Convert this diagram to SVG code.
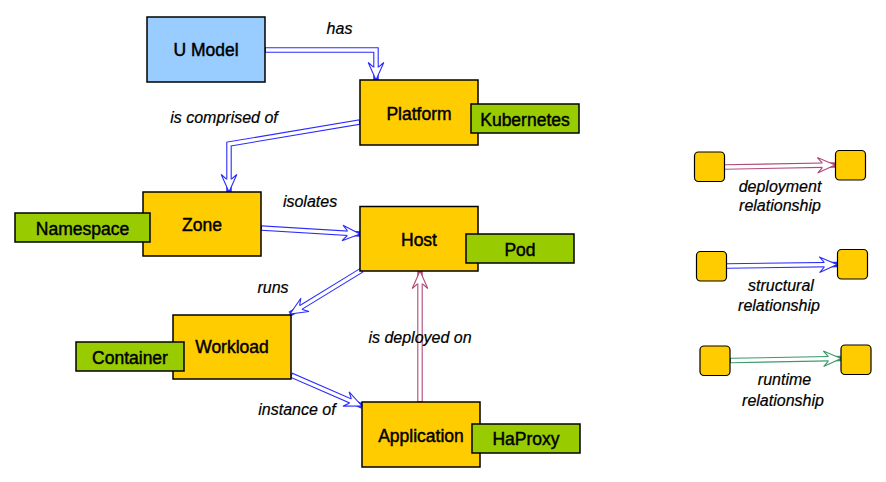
<svg xmlns="http://www.w3.org/2000/svg" width="886" height="482" viewBox="0 0 886 482">
<style>
  .node { stroke: #000; stroke-width: 1.5; }
  .orange { fill: #ffcc00; }
  .green { fill: #99cc00; }
  .blue { fill: #99ccff; }
  .nlabel { font-family: "Liberation Sans", Arial, sans-serif; font-size: 17.5px; fill: #000; stroke: #000; stroke-width: 0.45; text-anchor: middle; }
  .elabel { font-family: "Liberation Sans", Arial, sans-serif; font-size: 16px; font-style: italic; fill: #000; stroke: #000; stroke-width: 0.2; text-anchor: middle; }
  .outer { fill: none; stroke-width: 5.5; stroke-linejoin: miter; stroke-linecap: butt; }
  .inner { fill: none; stroke: #fff; stroke-width: 3.3; stroke-linejoin: miter; stroke-linecap: butt; }
  .s { stroke: #2b2bff; }
  .d { stroke: #b04a7a; }
  .r { stroke: #3a9a6a; }
  .leg { fill: #ffcc00; stroke: #000; stroke-width: 1.2; }
</style>
<defs>
  <marker id="ahS" markerUnits="userSpaceOnUse" viewBox="-19 -10 20 20" refX="0" refY="0" markerWidth="20" markerHeight="20" orient="auto" overflow="visible">
    <path d="M0,0 L-17.5,-7.8 L-13,-2.7 L-13,2.7 L-17.5,7.8 Z" fill="#fff" stroke="#2b2bff" stroke-width="1.1" stroke-linejoin="miter"/>
  </marker>
  <marker id="ahD" markerUnits="userSpaceOnUse" viewBox="-19 -10 20 20" refX="0" refY="0" markerWidth="20" markerHeight="20" orient="auto" overflow="visible">
    <path d="M0,0 L-17.5,-7.8 L-13,-2.7 L-13,2.7 L-17.5,7.8 Z" fill="#fff" stroke="#b04a7a" stroke-width="1.1" stroke-linejoin="miter"/>
  </marker>
  <marker id="ahR" markerUnits="userSpaceOnUse" viewBox="-19 -10 20 20" refX="0" refY="0" markerWidth="20" markerHeight="20" orient="auto" overflow="visible">
    <path d="M0,0 L-17.5,-7.8 L-13,-2.7 L-13,2.7 L-17.5,7.8 Z" fill="#fff" stroke="#3a9a6a" stroke-width="1.1" stroke-linejoin="miter"/>
  </marker>
</defs>
<rect width="886" height="482" fill="#fff"/>

<g id="connectors">
  <path class="outer s" d="M265,50 H376 V80" marker-end="url(#ahS)"/>
  <path class="inner" d="M266,50 H376 V69"/>
  <path class="outer s" d="M360,122 L229,144 V192" marker-end="url(#ahS)"/>
  <path class="inner" d="M359,122.2 L229,144 V181"/>
  <path class="outer s" d="M261,228 L360,234" marker-end="url(#ahS)"/>
  <path class="inner" d="M262,228.1 L349,233.3"/>
  <path class="outer s" d="M362,270 L290,314" marker-end="url(#ahS)"/>
  <path class="inner" d="M361.1,270.5 L299.4,308.3"/>
  <path class="outer s" d="M291,375 L362,406" marker-end="url(#ahS)"/>
  <path class="inner" d="M291.9,375.4 L351.9,401.6"/>
  <path class="outer d" d="M420,402 V271" marker-end="url(#ahD)"/>
  <path class="inner" d="M420,401 V282"/>
  <path class="outer d" d="M724,167 L835,165" marker-end="url(#ahD)"/>
  <path class="inner" d="M725,167 L824,165.2"/>
  <path class="outer s" d="M726,266 L837,264.5" marker-end="url(#ahS)"/>
  <path class="inner" d="M727,266 L826,264.6"/>
  <path class="outer r" d="M730,360.5 L841,358.5" marker-end="url(#ahR)"/>
  <path class="inner" d="M731,360.5 L830,358.7"/>
</g>

<g id="edge-labels">
  <text class="elabel" x="339.5" y="34">has</text>
  <text class="elabel" x="224" y="123">is comprised of</text>
  <text class="elabel" x="310" y="206.5">isolates</text>
  <text class="elabel" x="273" y="293">runs</text>
  <text class="elabel" x="420" y="342.5">is deployed on</text>
  <text class="elabel" x="297" y="415">instance of</text>
</g>

<g id="umodel">
  <rect class="node blue" x="147" y="17" width="118" height="65"/>
  <text class="nlabel" x="206" y="56">U Model</text>
</g>
<g id="platform">
  <rect class="node orange" x="360" y="80" width="118" height="65"/>
  <text class="nlabel" x="419" y="120">Platform</text>
</g>
<g id="kubernetes">
  <rect class="node green" x="471" y="104" width="108" height="29"/>
  <text class="nlabel" x="525" y="125.5">Kubernetes</text>
</g>
<g id="zone">
  <rect class="node orange" x="143" y="192" width="118" height="64"/>
  <text class="nlabel" x="202" y="230.5">Zone</text>
</g>
<g id="namespace">
  <rect class="node green" x="15" y="213" width="135" height="29"/>
  <text class="nlabel" x="82.5" y="235">Namespace</text>
</g>
<g id="host">
  <rect class="node orange" x="360" y="206.5" width="118" height="64.5"/>
  <text class="nlabel" x="419" y="245.5">Host</text>
</g>
<g id="pod">
  <rect class="node green" x="466" y="234" width="108" height="29"/>
  <text class="nlabel" x="520" y="255.5">Pod</text>
</g>
<g id="workload">
  <rect class="node orange" x="173" y="315" width="118" height="64"/>
  <text class="nlabel" x="232" y="353">Workload</text>
</g>
<g id="container">
  <rect class="node green" x="76" y="342" width="108" height="29"/>
  <text class="nlabel" x="130" y="364">Container</text>
</g>
<g id="application">
  <rect class="node orange" x="362" y="402" width="118" height="65"/>
  <text class="nlabel" x="421" y="441.5">Application</text>
</g>
<g id="haproxy">
  <rect class="node green" x="472" y="424" width="108" height="29"/>
  <text class="nlabel" x="526" y="445">HaProxy</text>
</g>

<g id="legend">
  <rect class="leg" x="694.5" y="152" width="30" height="29.5" rx="4"/>
  <rect class="leg" x="835.5" y="150.5" width="30" height="29.5" rx="4"/>
  <text class="elabel" x="780" y="192">deployment</text>
  <text class="elabel" x="780" y="210.5">relationship</text>
  <rect class="leg" x="696.5" y="251.5" width="30" height="29.5" rx="4"/>
  <rect class="leg" x="837.5" y="249.5" width="30" height="29.5" rx="4"/>
  <text class="elabel" x="781" y="290.5">structural</text>
  <text class="elabel" x="779" y="310.5">relationship</text>
  <rect class="leg" x="700" y="346" width="30" height="29.5" rx="4"/>
  <rect class="leg" x="841" y="345" width="30" height="29.5" rx="4"/>
  <text class="elabel" x="784.5" y="385">runtime</text>
  <text class="elabel" x="783" y="405.5">relationship</text>
</g>
</svg>
